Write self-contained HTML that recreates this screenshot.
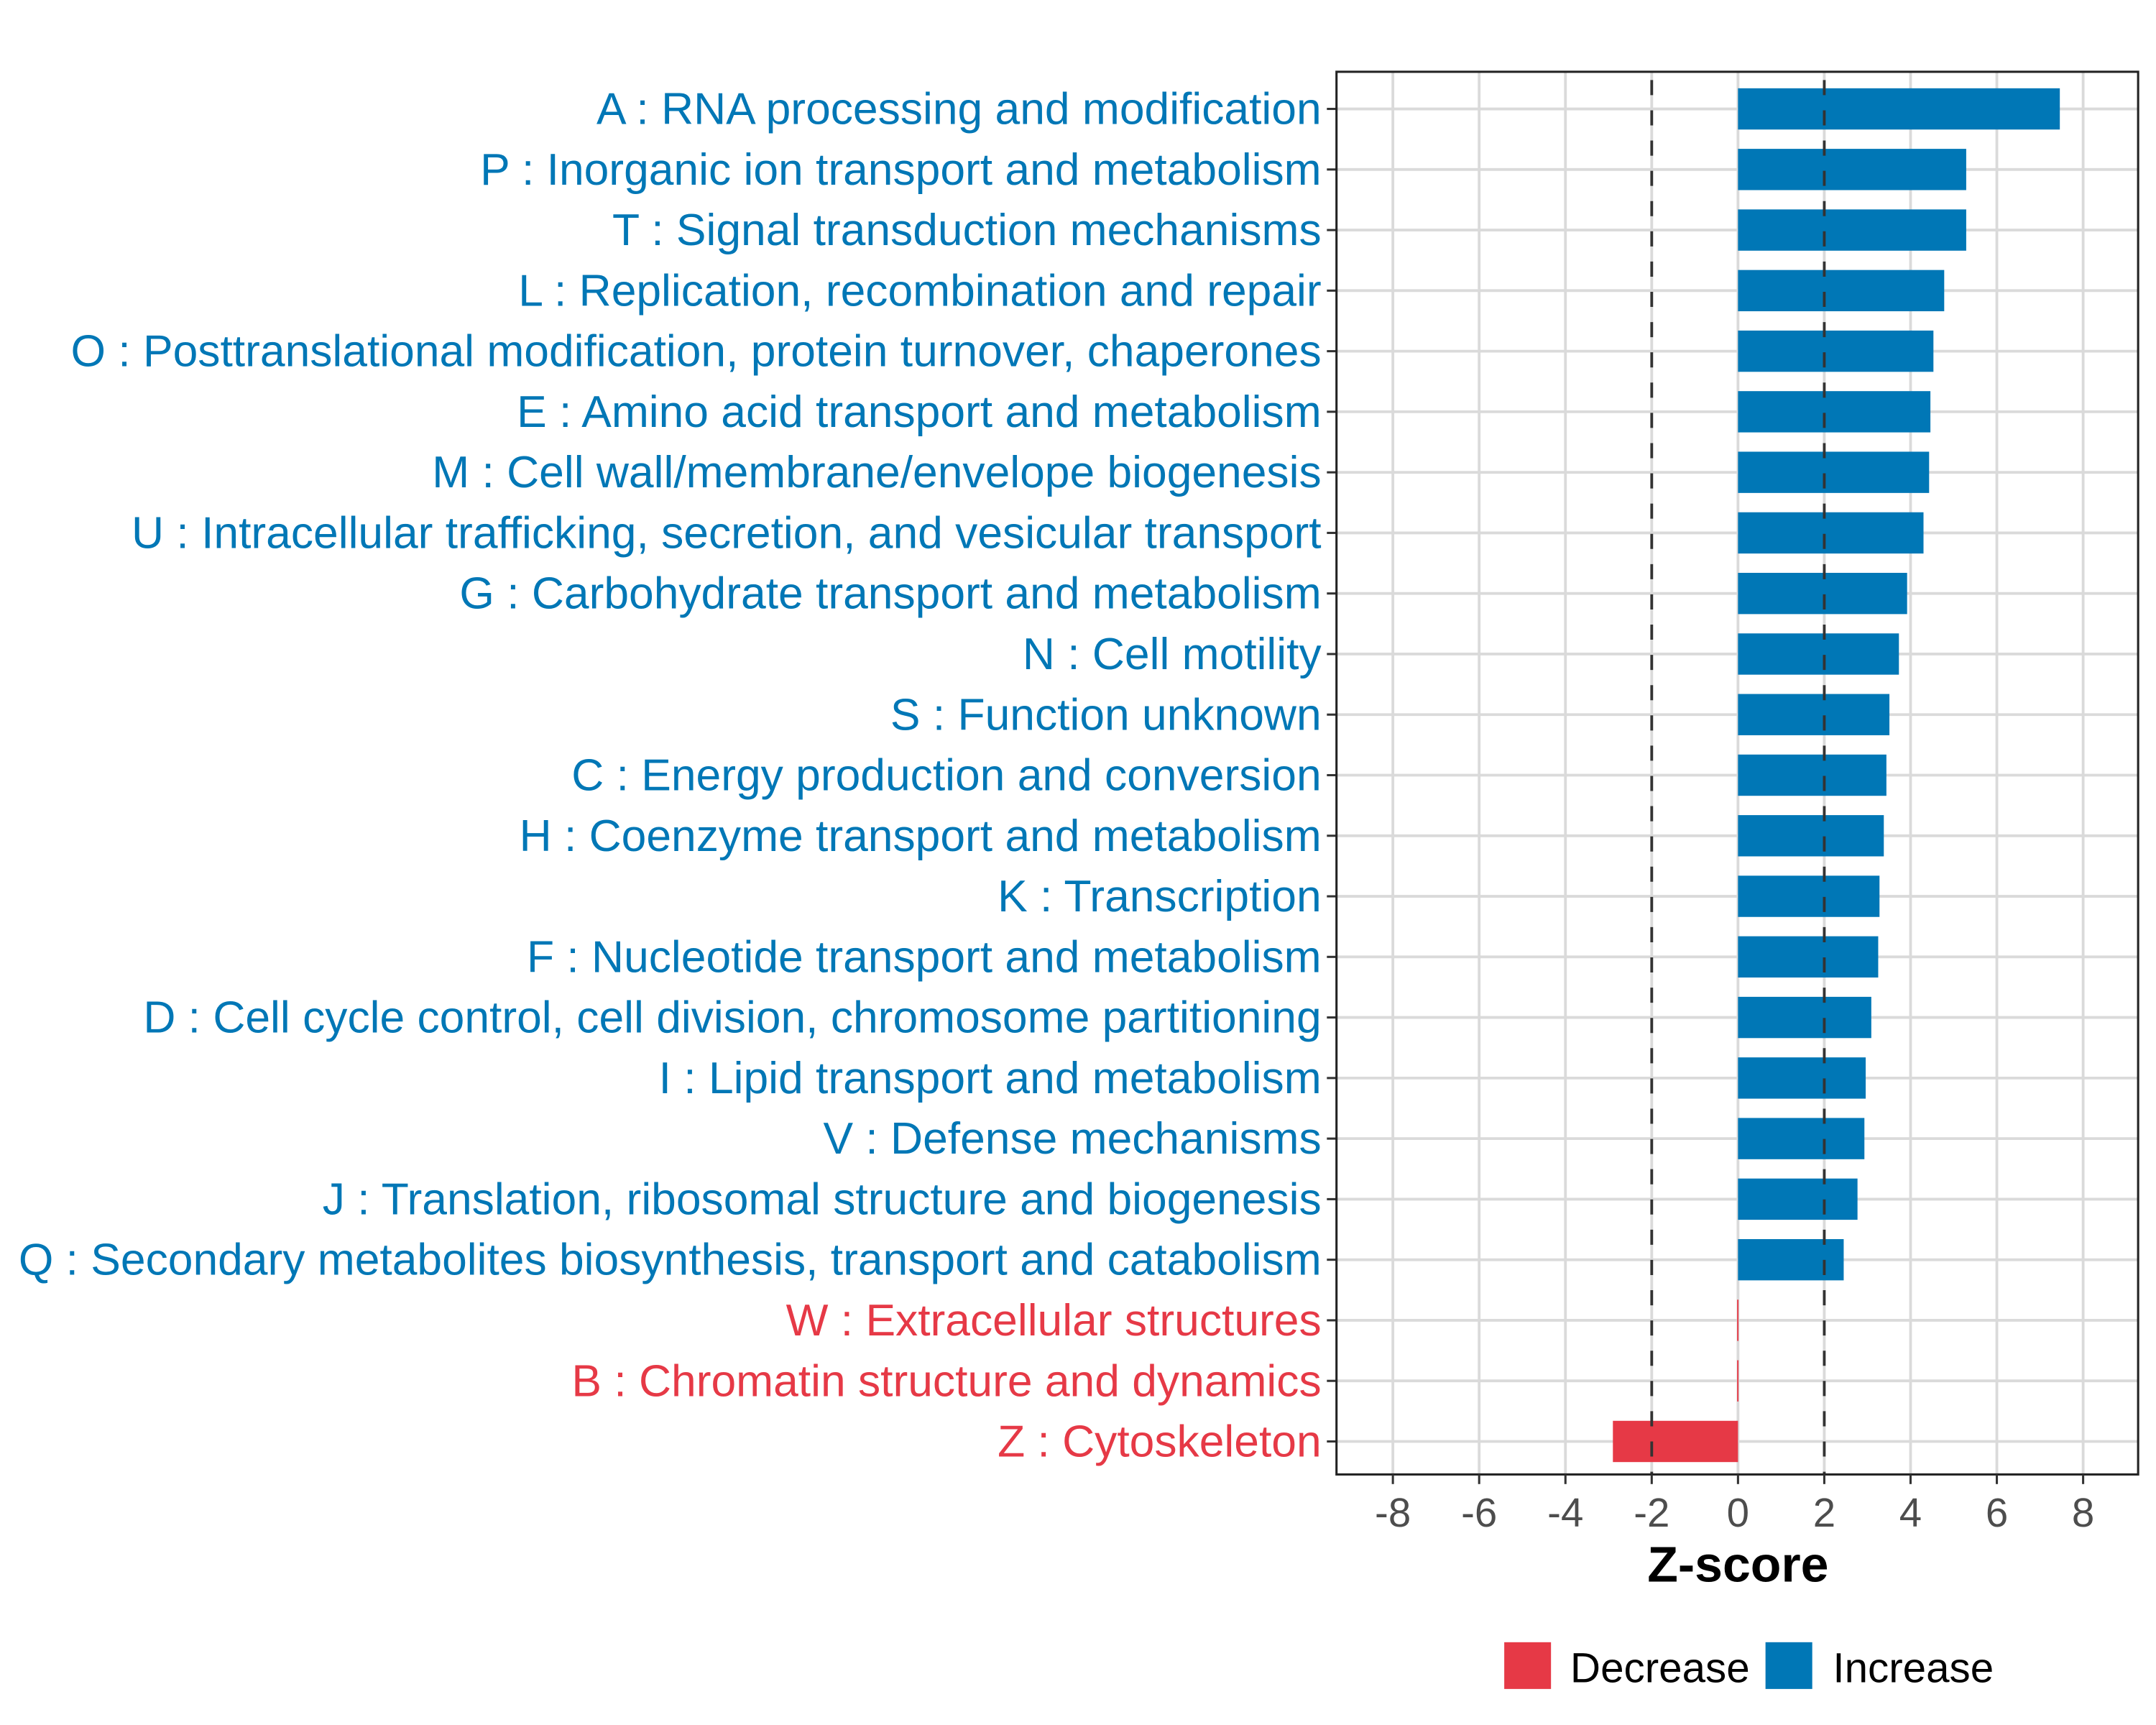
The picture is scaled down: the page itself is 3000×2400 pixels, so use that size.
<!DOCTYPE html>
<html><head><meta charset="utf-8"><style>
html,body{margin:0;padding:0;background:#fff}
svg{display:block}
text{font-family:"Liberation Sans",Arial,sans-serif}
</style></head><body>
<svg id="chart" width="3000" height="2400" viewBox="0 0 1568 1254" xmlns="http://www.w3.org/2000/svg">
<rect width="1568" height="1254" fill="#fff"/>
<g id="grid"></g>
<g id="bars"></g>
<g id="axes"></g>
</svg>
<script>
const categories = ["A : RNA processing and modification","P : Inorganic ion transport and metabolism","T : Signal transduction mechanisms","L : Replication, recombination and repair","O : Posttranslational modification, protein turnover, chaperones","E : Amino acid transport and metabolism","M : Cell wall/membrane/envelope biogenesis","U : Intracellular trafficking, secretion, and vesicular transport","G : Carbohydrate transport and metabolism","N : Cell motility","S : Function unknown","C : Energy production and conversion","H : Coenzyme transport and metabolism","K : Transcription","F : Nucleotide transport and metabolism","D : Cell cycle control, cell division, chromosome partitioning","I : Lipid transport and metabolism","V : Defense mechanisms","J : Translation, ribosomal structure and biogenesis","Q : Secondary metabolites biosynthesis, transport and catabolism","W : Extracellular structures","B : Chromatin structure and dynamics","Z : Cytoskeleton"];
const zscores = [7.46,5.29,5.29,4.78,4.53,4.46,4.43,4.30,3.92,3.73,3.51,3.44,3.38,3.28,3.25,3.09,2.96,2.93,2.77,2.45,-0.02,-0.02,-2.9];
const xTicks = [-8,-6,-4,-2,0,2,4,6,8];
const thresholds = [-2,2];

const NS="http://www.w3.org/2000/svg";
const L=972,R=1555,T=52,B=1072;
const x=v=>1264+v*31.375;
const y=i=>79+i*(1048-79)/22;
const BLUE="#0077b6",RED="#e63946";
function mk(tag,attrs,parent,txt){const e=document.createElementNS(NS,tag);for(const k in attrs)e.setAttribute(k,attrs[k]);if(txt!==undefined)e.textContent=txt;parent.appendChild(e);return e;}
const grid=document.getElementById('grid'),bars=document.getElementById('bars'),axes=document.getElementById('axes');

xTicks.forEach(t=>{const g=mk('line',{x1:x(t),x2:x(t),y1:T,y2:B,stroke:'#dadada','stroke-width':2},grid);

});
categories.forEach((c,i)=>{const g=mk('line',{x1:L,x2:R,y1:y(i),y2:y(i),stroke:'#dadada','stroke-width':2},grid);

});

categories.forEach((c,i)=>{
 const v=zscores[i];const col=v>=0?BLUE:RED;
 const x0=Math.min(x(0),x(v)),w=Math.max(Math.abs(x(v)-x(0)),1);
 const r=mk('rect',{x:x0,y:y(i)-15,width:w,height:30,fill:col},bars);
 
 
 const lab=mk('text',{x:961,y:y(i)+11,'text-anchor':'end','font-size':32.6,fill:col},axes,c);
 
 
 const tk=mk('line',{x1:965,x2:972,y1:y(i),y2:y(i),stroke:'#333','stroke-width':1.6},axes);
 
 
});

thresholds.forEach(t=>{const d=mk('line',{x1:x(t),x2:x(t),y1:T,y2:B,stroke:'#333','stroke-width':2,'stroke-dasharray':'11 11','stroke-dashoffset':-6},bars);

});

const frame=mk('rect',{x:L,y:T,width:R-L,height:B-T,fill:'none',stroke:'#222','stroke-width':1.6},axes);



xTicks.forEach(t=>{
 const tk=mk('line',{x1:x(t),x2:x(t),y1:B,y2:B+7,stroke:'#333','stroke-width':1.6},axes);
 
 
 const lb=mk('text',{x:x(t),y:1110,'text-anchor':'middle','font-size':29.5,fill:'#4d4d4d'},axes,String(t));
 
 
});

const title=mk('text',{x:1264,y:1150,'text-anchor':'middle','font-size':36.5,'font-weight':'bold',fill:'#000'},axes,'Z-score');



const l1=mk('rect',{x:1094,y:1194,width:34,height:34,fill:RED},axes);


const t1=mk('text',{x:1142,y:1223,'font-size':30.5,fill:'#000'},axes,'Decrease');


const l2=mk('rect',{x:1284,y:1194,width:34,height:34,fill:BLUE},axes);


const t2=mk('text',{x:1333,y:1223,'font-size':30.5,fill:'#000'},axes,'Increase');


</script>
</body></html>
